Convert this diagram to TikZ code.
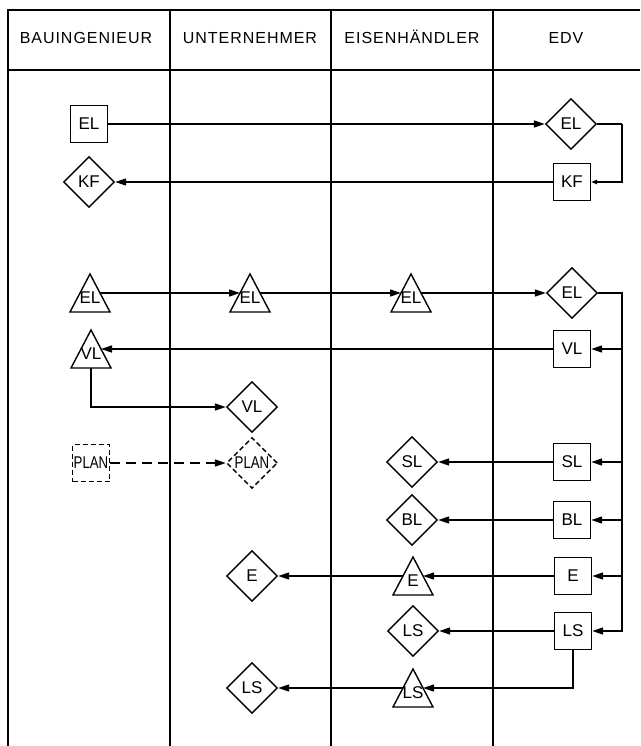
\documentclass[tikz,border=0pt]{standalone}
\usepackage{fontspec}
\setmainfont{Liberation Sans}
\newfontfamily\hdfont[LetterSpace=6]{Liberation Sans}
\usetikzlibrary{shapes.geometric,arrows.meta}
\newcommand\lblfont{\fontsize{17}{17}\selectfont}
\newcommand\planlbl{\scalebox{0.78}[1]{PLAN}}
\tikzset{
  base/.style={draw, line width=1.4pt, inner sep=0pt, font=\lblfont},
  sq/.style={base, rectangle, minimum width=37pt, minimum height=37pt},
  dia/.style={base, diamond, minimum width=51pt, minimum height=51pt},
  txt/.style={font=\lblfont, inner sep=0pt},
  hd/.style={font=\hdfont\fontsize{16}{16}\selectfont, inner sep=0pt, anchor=base},
  wire/.style={line width=1.3pt},
  conn/.style={line width=1.3pt, -{Triangle[length=11pt,width=7pt]}},
  smallconn/.style={line width=1.3pt, -{Triangle[length=6pt,width=4.5pt]}},
  dsh/.style={dash pattern=on 5pt off 3pt},
  dshline/.style={dash pattern=on 10pt off 6pt},
  frame/.style={line width=1.3pt},
  tri/.pic={
    \draw[line width=1.4pt, line join=miter] (0,-19) -- (20,19) -- (-20,19) -- cycle;
    \node[txt] (-lab) at (0,5) {#1};
    \coordinate (-w) at (-10,0);
    \coordinate (-e) at (10,0);
    \coordinate (-s) at (0,19);
  }
}
\begin{document}
\begin{tikzpicture}[x=1pt,y=-1pt]
\useasboundingbox (0,0) rectangle (640,746);
\fill[white] (0,0) rectangle (640,746);
% frame
\draw[frame] (640,10) -- (8,10) -- (8,746);
\draw[frame] (8,70) -- (640,70);
\draw[frame] (170,10) -- (170,746);
\draw[frame] (331,10) -- (331,746);
\draw[frame] (493,10) -- (493,746);
% headers
\node[hd] (h1) at (86,44) {BAUINGENIEUR};
\node[hd] (h2) at (250,44) {UNTERNEHMER};
\node[hd] (h3) at (412,44) {EISENHÄNDLER};
\node[hd] (h4) at (566,44) {EDV};
% nodes
\node[sq] (b1) at (89,124) {EL};
\node[dia] (d1) at (571,124) {EL};
\node[dia] (b2) at (89,182) {KF};
\node[sq] (d2) at (572,182) {KF};
\pic (tb3) at (90,293) {tri=EL};
\pic (tu3) at (250,293) {tri=EL};
\pic (te3) at (411,293) {tri=EL};
\node[dia] (d3) at (572,293) {EL};
\pic (tb4) at (91,349) {tri=VL};
\node[sq] (d4) at (572,349) {VL};
\node[dia] (u5) at (252,407) {VL};
\node[sq,dsh] (b6) at (91,463) {\planlbl};
\node[dia,dsh] (u6) at (252,463) {\planlbl};
\node[dia] (e6) at (412,462) {SL};
\node[sq] (d6) at (572,462) {SL};
\node[dia] (e7) at (412,520) {BL};
\node[sq] (d7) at (572,520) {BL};
\node[dia] (u8) at (252,576) {E};
\pic (te8) at (413,576) {tri=E};
\node[sq] (d8) at (573,576) {E};
\node[dia] (e9) at (413,631) {LS};
\node[sq] (d9) at (573,631) {LS};
\node[dia] (u10) at (252,688) {LS};
\pic (te10) at (413,688) {tri=LS};
% bus coordinates
\coordinate (bustop) at (622,124);
\coordinate (bus) at (622,293);
% connectors
\draw[conn] (b1) -- (d1);
\draw[wire] (d1.east) -- (bustop);
\draw[smallconn] (bustop) -- (bustop |- d2.east) -- (d2.east);
\draw[conn] (d2) -- (b2);
\draw[conn] (tb3-e) -- (tu3-w);
\draw[conn] (tu3-e) -- (te3-w);
\draw[conn] (te3-e) -- (d3);
\draw[wire] (d3.east) -- (bus) -- (bus |- d8.east);
\draw[conn] (bus |- d8.east) -- (bus |- d9.east) -- (d9.east);
\draw[conn] (bus |- d4.east) -- (d4.east);
\draw[conn] (bus |- d6.east) -- (d6.east);
\draw[conn] (bus |- d7.east) -- (d7.east);
\draw[conn] (bus |- d8.east) -- (d8.east);
\draw[conn] (d4) -- (tb4-e);
\draw[conn] (tb4-s) |- (u5.west);
\draw[conn,dshline] (b6) -- (u6);
\draw[conn] (d6) -- (e6);
\draw[conn] (d7) -- (e7);
\draw[conn] (d8) -- (te8-e);
\draw[conn] (te8-w) -- (u8);
\draw[conn] (d9) -- (e9);
\draw[conn] (d9.south) |- (te10-e);
\draw[conn] (te10-w) -- (u10);
\end{tikzpicture}
\end{document}
